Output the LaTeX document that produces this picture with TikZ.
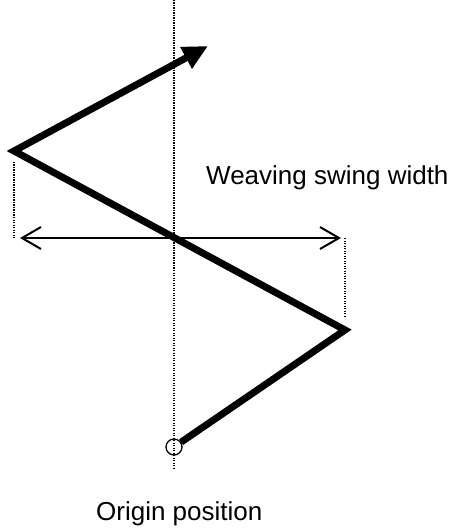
\documentclass[tikz,border=0pt]{standalone}
\usepackage{fontspec}
\setmainfont{Liberation Sans}
\usetikzlibrary{arrows.meta}

\begin{document}
\begin{tikzpicture}[x=1pt,y=-1pt,
    guide/.style={line width=1.2pt,dash pattern=on 1.2pt off 1.3pt},
    weave/.style={line width=7pt,line join=miter},
    lbl/.style={anchor=base west,inner sep=0pt,font=\fontsize{26}{30}\selectfont}]
			\useasboundingbox (0,0) rectangle (453,529);
			\node[draw,circle,line width=1.3pt,minimum size=16pt,inner sep=0pt] (o) at (174,447) {};
			\coordinate (r) at (345,330);
			\coordinate (l) at (14,151);
			\coordinate (t) at (208,46);
			\coordinate (la) at (20,238);
			\coordinate (ra) at (341,238);
			\draw[guide] (174,0) -- (174,468);
			\draw[guide] (14,162) -- (14,238);
			\draw[guide] (345,238) -- (345,316);
			\draw[weave,-{Triangle[length=25pt,width=23pt]}] (o) -- (r) -- (l) -- (t);
			\draw[line width=2pt,{Straight Barb[length=19pt,width=22pt]}-{Straight Barb[length=19pt,width=22pt]}] (la) -- (ra);
			\node[lbl] (sw) at (206,185) {Weaving swing width};
			\node[lbl] (op) at (96,520) {Origin position};
		\end{tikzpicture}
\end{document}
